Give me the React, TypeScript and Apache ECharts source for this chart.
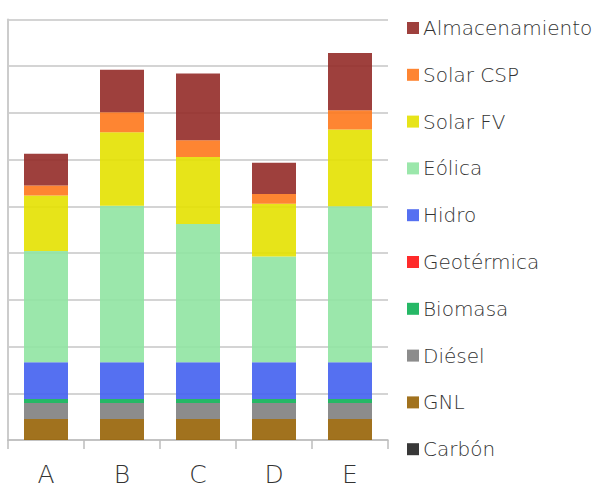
import React, { useEffect, useRef } from "react";
import * as echarts from "echarts";

const categories = ["A", "B", "C", "D", "E"];

// Stacked from the bottom up
const seriesNames = [
  "Carbón",
  "GNL",
  "Diésel",
  "Biomasa",
  "Geotérmica",
  "Hidro",
  "Eólica",
  "Solar FV",
  "Solar CSP",
  "Almacenamiento",
];

const carbon = [0, 0, 0, 0, 0];
const gnl = [4.5, 4.5, 4.5, 4.5, 4.5];
const diesel = [3.4, 3.4, 3.4, 3.4, 3.4];
const biomasa = [0.85, 0.85, 0.85, 0.85, 0.85];
const geotermica = [0, 0, 0, 0, 0];
const hidro = [7.9, 7.9, 7.9, 7.9, 7.9];
const eolica = [23.8, 33.5, 29.6, 22.6, 33.4];
const solarFV = [11.9, 15.7, 14.3, 11.3, 16.4];
const solarCSP = [2.1, 4.3, 3.6, 2.1, 4.1];
const almacenamiento = [6.8, 9.1, 14.3, 6.7, 12.3];

const seriesValues = [
  carbon,
  gnl,
  diesel,
  biomasa,
  geotermica,
  hidro,
  eolica,
  solarFV,
  solarCSP,
  almacenamiento,
];

const seriesColors = [
  "#222222",
  "#976305",
  "#7f7f7f",
  "#0eb055",
  "#ff1414",
  "#4261ef",
  "#90e4a2",
  "#e4e100",
  "#fe781c",
  "#942b28",
];

const FONT = "'DejaVu Sans', sans-serif";

export default function App() {
  const ref = useRef<HTMLDivElement>(null);

  useEffect(() => {
    if (!ref.current) return;
    const chart = echarts.init(ref.current, undefined, { renderer: "svg" });

    chart.setOption({
      animation: false,
      textStyle: { fontFamily: FONT },
      grid: { left: 8, top: 19.5, width: 380, height: 421.5, containLabel: false },
      legend: {
        orient: "vertical",
        left: 407,
        top: 18,
        padding: 0,
        itemWidth: 12,
        itemHeight: 12,
        itemGap: 26.8,
        icon: "rect",
        data: [...seriesNames].reverse(),
        textStyle: {
          fontFamily: FONT,
          fontSize: 20,
          fontWeight: 200,
          color: "#333",
          lineHeight: 20,
          padding: [0, 0, 0, -1],
        },
      },
      xAxis: {
        type: "category",
        data: categories,
        axisLine: { lineStyle: { color: "#bdbdbd", width: 1.5 } },
        axisTick: { show: true, length: 9, lineStyle: { color: "#bdbdbd", width: 1.5 } },
        axisLabel: {
          fontFamily: FONT,
          fontSize: 25,
          fontWeight: 200,
          color: "#333",
          margin: 22,
        },
      },
      yAxis: {
        type: "value",
        min: 0,
        max: 90,
        interval: 10,
        axisLabel: { show: false },
        axisTick: { show: false },
        axisLine: { show: true, lineStyle: { color: "#cccccc", width: 2 } },
        splitLine: { lineStyle: { color: "#c6c6c6", width: 1.5 } },
      },
      series: seriesNames.map((name, i) => ({
        name,
        type: "bar",
        stack: "total",
        barWidth: 44,
        data: seriesValues[i],
        itemStyle: { color: seriesColors[i], opacity: 0.9 },
      })),
    });

    return () => chart.dispose();
  }, []);

  return (
    <div
      ref={ref}
      style={{ position: "absolute", left: 0, top: 0, width: 594, height: 487 }}
    />
  );
}
